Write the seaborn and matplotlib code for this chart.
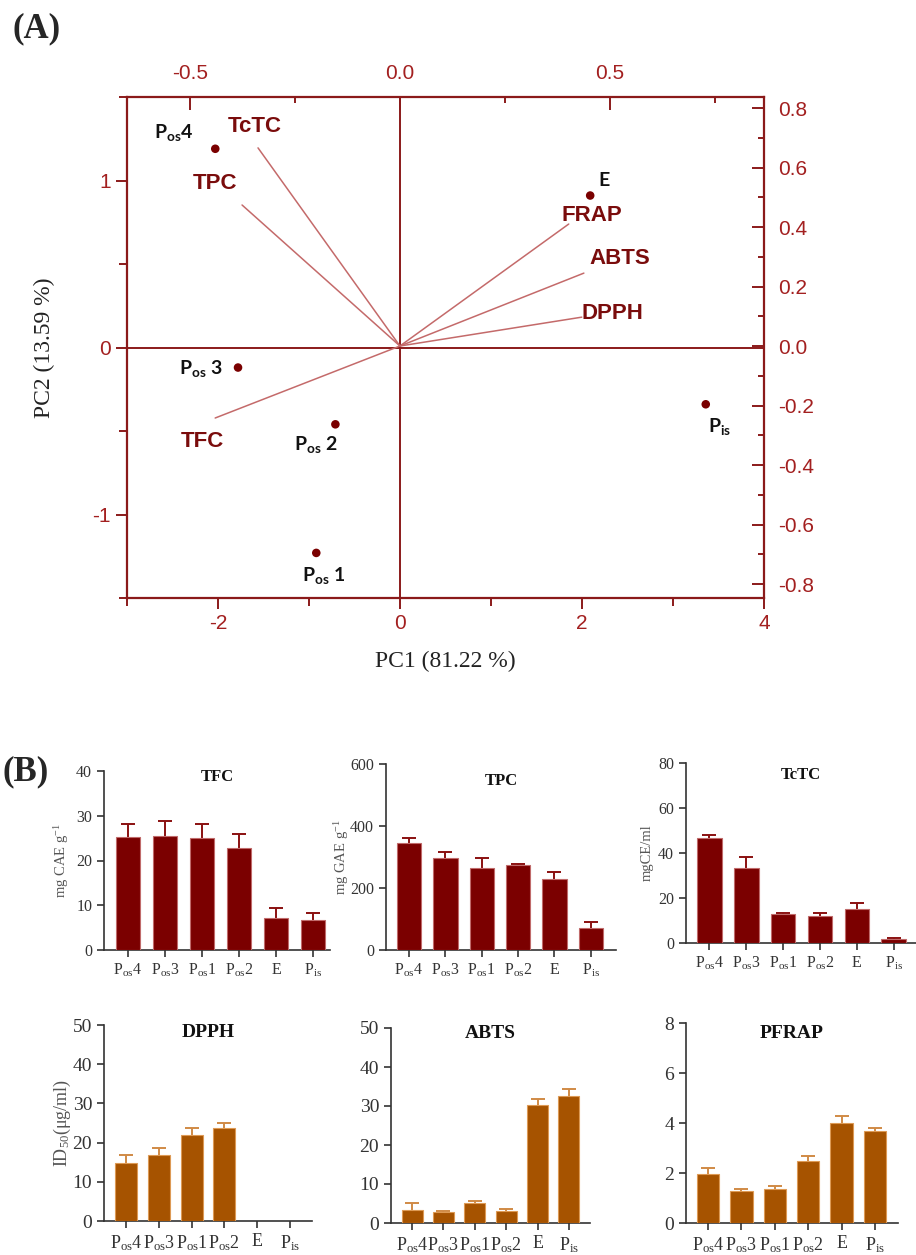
import numpy as np
import pandas as pd
import matplotlib
matplotlib.use("Agg")
import matplotlib.pyplot as plt
import seaborn as sns

# ---- PCA biplot data (panel A) ----
samples = [r"$\mathbf{P_{os}4}$", r"$\mathbf{P_{os}\ 3}$", r"$\mathbf{P_{os}\ 2}$",
           r"$\mathbf{P_{os}\ 1}$", r"$\mathbf{E}$", r"$\mathbf{P_{is}}$"]
pc1 = [-2.03, -1.78, -0.71, -0.92, 2.09, 3.36]
pc2 = [1.19, -0.12, -0.46, -1.23, 0.91, -0.34]
sample_offsets = [(-42, 16), (-37, -1), (-20, -20), (7, -23), (14, 15), (14, -22)]

variables = ["TcTC", "TPC", "TFC", "FRAP", "ABTS", "DPPH"]
load1 = [-0.338, -0.376, -0.44, 0.402, 0.438, 0.433]
load2 = [0.666, 0.474, -0.242, 0.41, 0.245, 0.097]
var_offsets = [(-3, 21), (-27, 21), (-13, -23), (23, 9), (36, 15), (31, 4)]

# ---- bar chart data (panel B) ----
extracts = ["Pos4", "Pos3", "Pos1", "Pos2", "E", "Pis"]
extract_labels = [r"$\mathrm{P_{os}4}$", r"$\mathrm{P_{os}3}$", r"$\mathrm{P_{os}1}$",
                  r"$\mathrm{P_{os}2}$", "E", r"$\mathrm{P_{is}}$"]
tfc_mean = [25.3, 25.4, 25.1, 22.7, 7.2, 6.7]
tfc_sd = [2.8, 3.4, 3.1, 3.3, 2.1, 1.6]
tpc_mean = [346, 296, 266, 273, 229, 71]
tpc_sd = [14, 19, 31, 5, 22, 19]
tctc_mean = [46.8, 33.5, 13.0, 12.0, 15.3, 1.7]
tctc_sd = [1.2, 4.7, 0.5, 1.2, 2.6, 0.7]
dpph_mean = [14.9, 16.8, 21.9, 23.6, np.nan, np.nan]
dpph_sd = [1.9, 1.7, 1.7, 1.4, np.nan, np.nan]
abts_mean = [3.3, 2.7, 5.1, 3.2, 30.3, 32.6]
abts_sd = [1.9, 0.4, 0.5, 0.3, 1.4, 1.7]
pfrap_mean = [1.98, 1.29, 1.38, 2.47, 3.99, 3.67]
pfrap_sd = [0.21, 0.09, 0.11, 0.23, 0.30, 0.13]

sns.set_style("ticks")
plt.rcParams["font.family"] = ["Liberation Serif", "DejaVu Serif"]
plt.rcParams["axes.unicode_minus"] = False
plt.rcParams["mathtext.fontset"] = "custom"
plt.rcParams["mathtext.rm"] = "Liberation Serif"
plt.rcParams["mathtext.it"] = "Liberation Serif:italic"
plt.rcParams["mathtext.bf"] = "Lato:bold"

W, H = 916, 1255
fig = plt.figure(figsize=(W / 100, H / 100), dpi=100)


def rect(l, t, r, b):
    return [l / W, 1 - b / H, (r - l) / W, (b - t) / H]


red = "#8b1a1a"
tick_red = "#a32020"
label_red = "#7a0c0c"
vec_red = "#c46a6a"
sans = ["Liberation Sans", "DejaVu Sans"]

# ---------------- panel A ----------------
ax = fig.add_axes(rect(127, 97, 764, 598))
sns.scatterplot(x=pc1, y=pc2, ax=ax, color="#7a0000", s=38, edgecolor="none", zorder=5)
ax.set_xlim(-3, 4)
ax.set_ylim(-1.5, 1.5)
ax.axhline(0, color=red, lw=1.4, zorder=1)
ax.axvline(0, color=red, lw=1.4, zorder=1)
for s in ax.spines.values():
    s.set_color(red)
    s.set_linewidth(1.6)
ax.set_xticks([-2, 0, 2, 4])
ax.set_xticks([-3, -1, 1, 3], minor=True)
ax.set_yticks([-1, 0, 1])
ax.set_yticks([-1.5, -0.5, 0.5, 1.5], minor=True)
ax.tick_params(which="major", colors=red, labelcolor=tick_red, length=8, width=1.4,
               labelsize=15, direction="out")
ax.tick_params(which="minor", colors=red, length=6, width=1.4, direction="out")
for lab in ax.get_xticklabels() + ax.get_yticklabels():
    lab.set_family(sans)
ax.set_xlabel("PC1 (81.22 %)", fontsize=17, color="#222", labelpad=13)
ax.set_ylabel("PC2 (13.59 %)", fontsize=17, color="#222", labelpad=27)

for lab, x, y, off in zip(samples, pc1, pc2, sample_offsets):
    ax.annotate(lab, (x, y), xytext=off, textcoords="offset pixels",
                ha="center", va="center", fontsize=14, color="#111")

axl = fig.add_axes(rect(127, 97, 764, 598), facecolor="none", label="loadings")
axl.set_xlim(-0.65, 0.867)
axl.set_ylim(-0.847, 0.837)
for s in axl.spines.values():
    s.set_visible(False)
axl.xaxis.tick_top()
axl.yaxis.tick_right()
axl.set_xticks([-0.5, 0.0, 0.5])
axl.set_xticks([-0.25, 0.25, 0.75], minor=True)
axl.set_yticks([-0.8, -0.6, -0.4, -0.2, 0.0, 0.2, 0.4, 0.6, 0.8])
axl.set_yticks([-0.7, -0.5, -0.3, -0.1, 0.1, 0.3, 0.5, 0.7], minor=True)
axl.xaxis.set_major_formatter(matplotlib.ticker.FormatStrFormatter("%.1f"))
axl.yaxis.set_major_formatter(matplotlib.ticker.FormatStrFormatter("%.1f"))
axl.tick_params(which="major", colors=red, labelcolor=tick_red, length=9, width=1.4,
                labelsize=15, direction="in", pad=10)
axl.tick_params(which="minor", colors=red, length=4, width=1.4, direction="in")
axl.tick_params(axis="x", which="major", pad=10)
for lab in axl.get_xticklabels() + axl.get_yticklabels():
    lab.set_family(sans)

for name, x, y, off in zip(variables, load1, load2, var_offsets):
    axl.plot([0, x], [0, y], color=vec_red, lw=1.1)
    axl.annotate(name, (x, y), xytext=off, textcoords="offset pixels", ha="center",
                 va="center", fontsize=16, fontweight="bold", color=label_red, family=sans)

fig.text(12 / W, 1 - 29 / H, "(A)", fontsize=25, fontweight="bold", va="center", ha="left")
fig.text(2 / W, 1 - 772 / H, "(B)", fontsize=25, fontweight="bold", va="center", ha="left")

# ---------------- panel B ----------------
dark_bar, dark_edge, dark_err = "#7b0000", "#c06a6a", "#8a1010"
orange_bar, orange_edge, orange_err = "#a65300", "#dd9a55", "#d08a45"

panels = [
    (tfc_mean, tfc_sd, "TFC", r"mg CAE g$^{\mathrm{-1}}$", (104, 771, 330, 950), 40, 10,
     (-0.65, 5.46), 0.966, 62, "top"),
    (tpc_mean, tpc_sd, "TPC", r"mg GAE g$^{\mathrm{-1}}$", (386, 764, 616, 950), 600, 200,
     (-0.63, 5.69), 0.91, 342, "top"),
    (tctc_mean, tctc_sd, "TcTC", "mgCE/ml", (686, 763, 916, 943), 80, 20,
     (-0.63, 5.6), 0.933, 647, "top"),
    (dpph_mean, dpph_sd, "DPPH", r"ID$_{\mathrm{50}}$(μg/ml)", (104, 1025, 312, 1221), 50, 10,
     (-0.67, 5.67), 0.96, 62, "bottom"),
    (abts_mean, abts_sd, "ABTS", "", (391, 1028, 590, 1223), 50, 10,
     (-0.67, 5.67), 0.974, None, "bottom"),
    (pfrap_mean, pfrap_sd, "PFRAP", "", (686, 1023, 898, 1223), 8, 2,
     (-0.66, 5.69), 0.95, None, "bottom"),
]

for mean, sd, title, ylab, (l, t, r, b), ymax, step, xl, ty, ylx, row in panels:
    bx = fig.add_axes(rect(l, t, r, b))
    if row == "top":
        fc, ec, erc, tfs, xfs, ttl = dark_bar, dark_edge, dark_err, 11.5, 11.5, 12
    else:
        fc, ec, erc, tfs, xfs, ttl = orange_bar, orange_edge, orange_err, 14, 13, 14
    df = pd.DataFrame({"sample": extracts, "value": mean})
    sns.barplot(data=df, x="sample", y="value", order=extracts, color=fc, width=0.67,
                edgecolor=ec, linewidth=0.8, saturation=1, ax=bx, zorder=3)
    sd_arr = np.array(sd, dtype=float)
    eb = bx.errorbar(np.arange(6), mean, yerr=[np.zeros(6), sd_arr], fmt="none",
                     ecolor=erc, elinewidth=1.4, capsize=5, capthick=1.4, zorder=2)
    eb[1][0].set_visible(False)
    bx.set_ylim(0, ymax)
    bx.set_xlim(*xl)
    bx.set_yticks(np.arange(0, ymax + step / 2, step))
    bx.set_xticks(range(6))
    bx.set_xticklabels(extract_labels)
    bx.set_xlabel("")
    bx.set_ylabel("")
    sns.despine(ax=bx)
    for s in ["left", "bottom"]:
        bx.spines[s].set_color("#333")
        bx.spines[s].set_linewidth(1.2)
    bx.tick_params(colors="#333", labelcolor="#333", labelsize=tfs, length=5, width=1.2)
    bx.tick_params(axis="x", labelsize=xfs)
    bx.text(0.5, ty, title, transform=bx.transAxes, ha="center", va="center",
            fontsize=ttl, fontweight="bold", color="#111")
    if ylab:
        fig.text(ylx / W, 1 - (t + b) / 2 / H, ylab, rotation=90, ha="center", va="center",
                 fontsize=tfs - 1, color="#555")

fig.savefig("out.png", dpi=100)
